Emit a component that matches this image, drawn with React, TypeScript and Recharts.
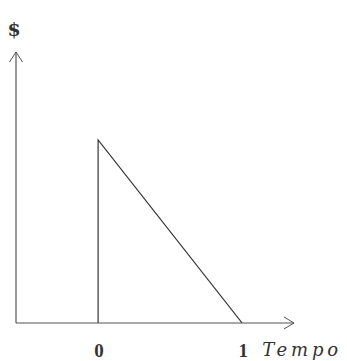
import { LineChart, Line, XAxis, YAxis, ReferenceLine } from 'recharts';

// payoff profile: jump at 0, then falls linearly to zero at 1
const times = [0, 0, 1];
const values = [0, 1, 0];
const tickValues = [0, 1];

const X_MIN = -0.57;
const X_MAX = 1.36;
const Y_MAX = 1.48;

const data = times.map((t, i) => ({ t, v: values[i] }));

const INK = '#333333';
const AXIS = '#555555';

const renderTick = (props: any) => {
  const { x, y, payload } = props;
  return (
    <g>
      <text
        x={x + 1}
        y={y + 26}
        textAnchor="middle"
        fill={INK}
        style={{ fontFamily: '"Liberation Serif", serif', fontWeight: 'bold', fontSize: 19 }}
      >
        {payload.value}
      </text>
      {payload.value === 1 && (
        <text
          x={x + 20}
          y={y + 25}
          fill={INK}
          textLength={76}
          lengthAdjust="spacing"
          style={{ fontFamily: '"DejaVu Serif", serif', fontStyle: 'italic', fontSize: 18 }}
        >
          Tempo
        </text>
      )}
    </g>
  );
};

const renderDollar = (props: any) => {
  const { viewBox } = props;
  return (
    <text
      x={viewBox.x + viewBox.width - 2}
      y={viewBox.y - 16}
      textAnchor="middle"
      fill={INK}
      style={{ fontFamily: '"DejaVu Serif", serif', fontWeight: 'bold', fontSize: 19 }}
    >
      $
    </text>
  );
};

function App() {
  return (
    <div style={{ position: 'absolute', left: 0, top: 0, background: '#fff' }}>
      <LineChart
        width={347}
        height={361}
        data={data}
        margin={{ top: 52, right: 53, bottom: 0, left: 15 }}
      >
        <XAxis
          dataKey="t"
          type="number"
          domain={[X_MIN, X_MAX]}
          ticks={tickValues}
          interval={0}
          allowDataOverflow
          tickLine={false}
          axisLine={{ stroke: AXIS, strokeWidth: 1.2 }}
          tick={renderTick}
          height={38}
        />
        <YAxis
          type="number"
          domain={[0, Y_MAX]}
          allowDataOverflow
          width={1}
          tick={false}
          tickLine={false}
          axisLine={{ stroke: AXIS, strokeWidth: 1.2 }}
          label={{ content: renderDollar }}
        />
        {/* arrowheads on the axes */}
        <ReferenceLine
          segment={[{ x: X_MAX - 0.07, y: 0.033 }, { x: X_MAX, y: 0 }]}
          stroke={AXIS}
          ifOverflow="visible"
        />
        <ReferenceLine
          segment={[{ x: X_MAX - 0.07, y: -0.033 }, { x: X_MAX, y: 0 }]}
          stroke={AXIS}
          ifOverflow="visible"
        />
        <ReferenceLine
          segment={[{ x: X_MIN - 0.045, y: Y_MAX - 0.055 }, { x: X_MIN, y: Y_MAX }]}
          stroke={AXIS}
          ifOverflow="visible"
        />
        <ReferenceLine
          segment={[{ x: X_MIN + 0.045, y: Y_MAX - 0.055 }, { x: X_MIN, y: Y_MAX }]}
          stroke={AXIS}
          ifOverflow="visible"
        />
        <Line
          type="linear"
          dataKey="v"
          stroke={INK}
          strokeWidth={1.2}
          dot={false}
          activeDot={false}
          isAnimationActive={false}
        />
      </LineChart>
    </div>
  );
}

export default App;
